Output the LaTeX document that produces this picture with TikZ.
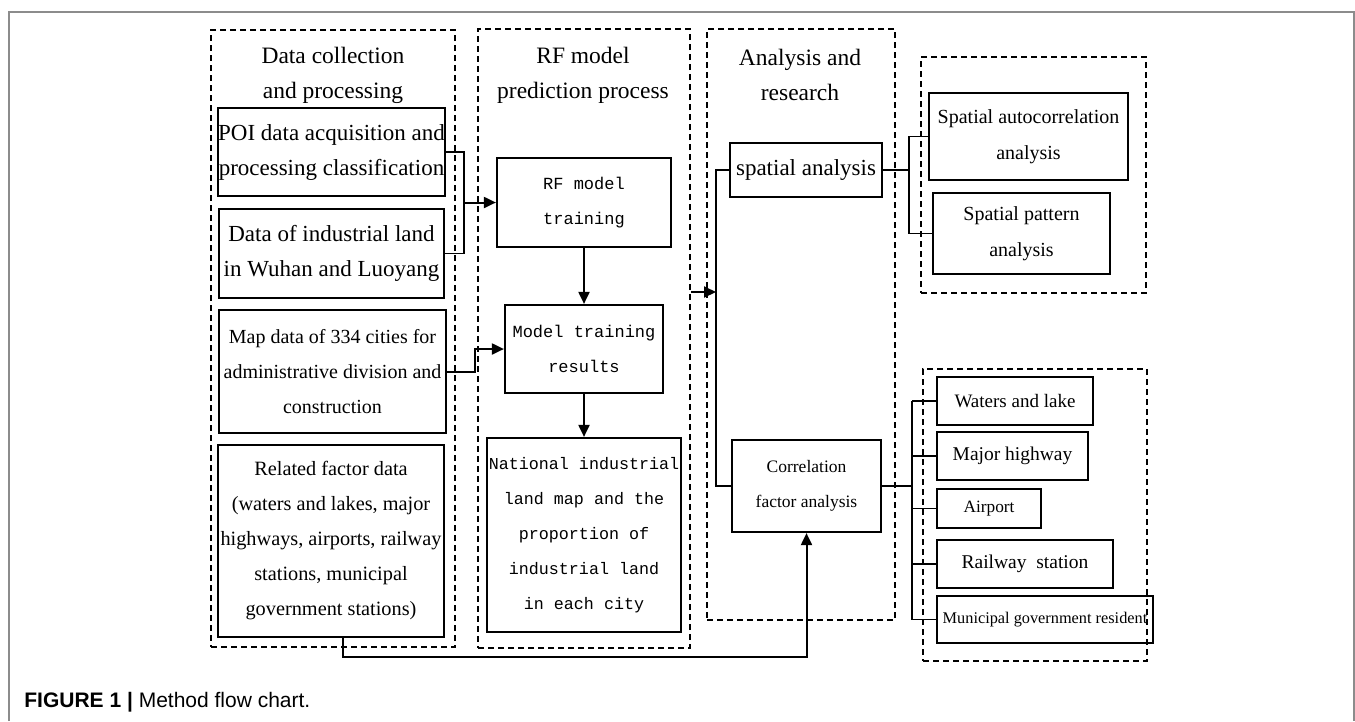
\documentclass[tikz,border=0pt]{standalone}
\usepackage{fontspec}
\setmainfont{Liberation Serif}
\setsansfont{Liberation Sans}
\setmonofont{Liberation Mono}
\usetikzlibrary{arrows.meta}

\tikzset{every picture/.style={line width=0.75pt}}
\tikzset{
  grp/.style={draw, line width=2.2pt, dash pattern=on 6pt off 4pt, inner sep=0pt},
  box/.style={draw, line width=2.2pt, align=center, inner sep=0pt},
  ttl/.style={align=center, inner sep=0pt, font=\fontsize{23.5}{35}\selectfont},
  flow/.style={line width=2pt, -{Triangle[length=12pt,width=11pt]}},
  link/.style={line width=1.5pt},
}

\begin{document}
\begin{tikzpicture}[x=1pt,y=1pt,yscale=-1,xscale=1]
	\useasboundingbox (0,0) rectangle (1355,721);

	%Shape: Frame
	\draw [line width=2pt, color={rgb, 255:red, 140; green, 140; blue, 140 }] (9,721) -- (9,12) -- (1354,12) -- (1354,721) ;

	%Shape: Dashed groups
	\node [grp, minimum width=244pt, minimum height=617pt] (grpA) at (333,338.5) {};
	\node [grp, minimum width=212pt, minimum height=619pt] (grpB) at (584,338.5) {};
	\node [grp, minimum width=188pt, minimum height=591pt] (grpC) at (801,324.5) {};
	\node [grp, minimum width=225pt, minimum height=236pt] (grpD) at (1033.5,175) {};
	\node [grp, minimum width=224pt, minimum height=292pt] (grpE) at (1035,515) {};

	% Text Node
	\node [ttl] (ttlA) at (333,75.5) {Data collection\\and processing};
	% Text Node
	\node [ttl] (ttlB) at (583,75) {RF model\\prediction process};
	% Text Node
	\node [ttl] (ttlC) at (800,74.5) {Analysis and\\research};

	%Shape: Rectangle (data)
	\node [box, minimum width=225pt, minimum height=88pt, font=\fontsize{23}{35}\selectfont] (poi) at (331.5,152) {POI data acquisition and\\processing classification};
	\node [box, minimum width=225pt, minimum height=89pt, font=\fontsize{23}{35}\selectfont] (land) at (331.5,253.5) {Data of industrial land\\in Wuhan and Luoyang};
	\node [box, minimum width=227pt, minimum height=123pt, font=\fontsize{20}{35}\selectfont] (map) at (332.5,371.5) {Map data of 334 cities for\\administrative division and\\construction};
	\node [box, minimum width=226pt, minimum height=192pt, font=\fontsize{20.3}{35}\selectfont] (factor) at (331,541) {Related factor data\\(waters and lakes, major\\highways, airports, railway\\stations, municipal\\government stations)};

	%Shape: Rectangle (model)
	\node [box, minimum width=174pt, minimum height=89pt, font=\ttfamily\fontsize{17}{35}\selectfont] (rftrain) at (584,202.5) {RF model\\training};
	\node [box, minimum width=158pt, minimum height=88pt, font=\ttfamily\fontsize{17}{35}\selectfont] (results) at (584,349) {Model training\\results};
	\node [box, minimum width=194pt, minimum height=194pt, font=\ttfamily\fontsize{16.7}{35}\selectfont] (national) at (584,535) {National industrial\\land map and the\\proportion of\\industrial land\\in each city};

	%Shape: Rectangle (analysis)
	\node [box, minimum width=152pt, minimum height=54pt, font=\fontsize{23}{35}\selectfont] (spatial) at (806,170) {spatial analysis};
	\node [box, minimum width=149pt, minimum height=92pt, font=\fontsize{17.5}{35}\selectfont] (corr) at (806.5,486) {Correlation\\factor analysis};

	%Shape: Rectangle (spatial results)
	\node [box, minimum width=199pt, minimum height=87pt, font=\fontsize{20}{36}\selectfont] (autocorr) at (1028.5,136.5) {Spatial autocorrelation\\analysis};
	\node [box, minimum width=177pt, minimum height=81pt, font=\fontsize{20}{36}\selectfont] (pattern) at (1021.5,233.5) {Spatial pattern\\analysis};

	%Shape: Rectangle (factors)
	\node [box, minimum width=156pt, minimum height=48pt, font=\fontsize{19}{35}\selectfont] (waters) at (1015,401) {Waters and lake};
	\node [box, minimum width=151pt, minimum height=48pt, font=\fontsize{19.5}{35}\selectfont] (highway) at (1012.5,456) {Major highway};
	\node [box, minimum width=104pt, minimum height=39pt, font=\fontsize{17.3}{35}\selectfont] (airport) at (989,508.5) {Airport};
	\node [box, minimum width=176pt, minimum height=48pt, font=\fontsize{19.5}{35}\selectfont] (railway) at (1025,564) {Railway\ \ station};
	\node [box, minimum width=216pt, minimum height=47pt, font=\fontsize{16.3}{35}\selectfont] (municipal) at (1045,619.5) {Municipal government resident};

	%Joints
	\coordinate (jA) at (464,202.5);
	\coordinate (jB) at (475,371.5);
	\coordinate (busin) at (716,292);
	\coordinate (jC) at (343,657);
	\coordinate (jD) at (909,170);
	\coordinate (jE) at (912,486);

	%Straight Lines
	\draw [link] (poi.east) -| (jA) |- (land.east) ;
	\draw [flow] (jA) -- (rftrain.west) ;
	\draw [flow] (rftrain.south) -- (results.north) ;
	\draw [flow] (results.south) -- (national.north) ;
	\draw [flow] (map.east) -- (jB) |- (results.west) ;
	\draw [flow] (grpB.east |- busin) -- (busin) ;
	\draw [link] (spatial.west) -| (busin) |- (corr.west) ;
	\draw [flow] (factor.south -| jC) -- (jC) -| (corr.south) ;
	\draw [link] (spatial.east) -- (jD) ;
	\draw [link] (autocorr.west) -| (jD) |- (pattern.west) ;
	\draw [link] (corr.east) -- (jE) ;
	\draw [link] (jE |- waters.west) -- (jE |- municipal.west) ;
	\foreach \f in {waters,highway,airport,railway,municipal}
		\draw [link] (jE |- \f.west) -- (\f.west) ;

	% Text Node
	\node [anchor=west, inner sep=0pt, font=\sffamily\fontsize{21}{24}\selectfont] (caption) at (24,702) {\textbf{FIGURE 1 |} Method flow chart.};

\end{tikzpicture}
\end{document}
